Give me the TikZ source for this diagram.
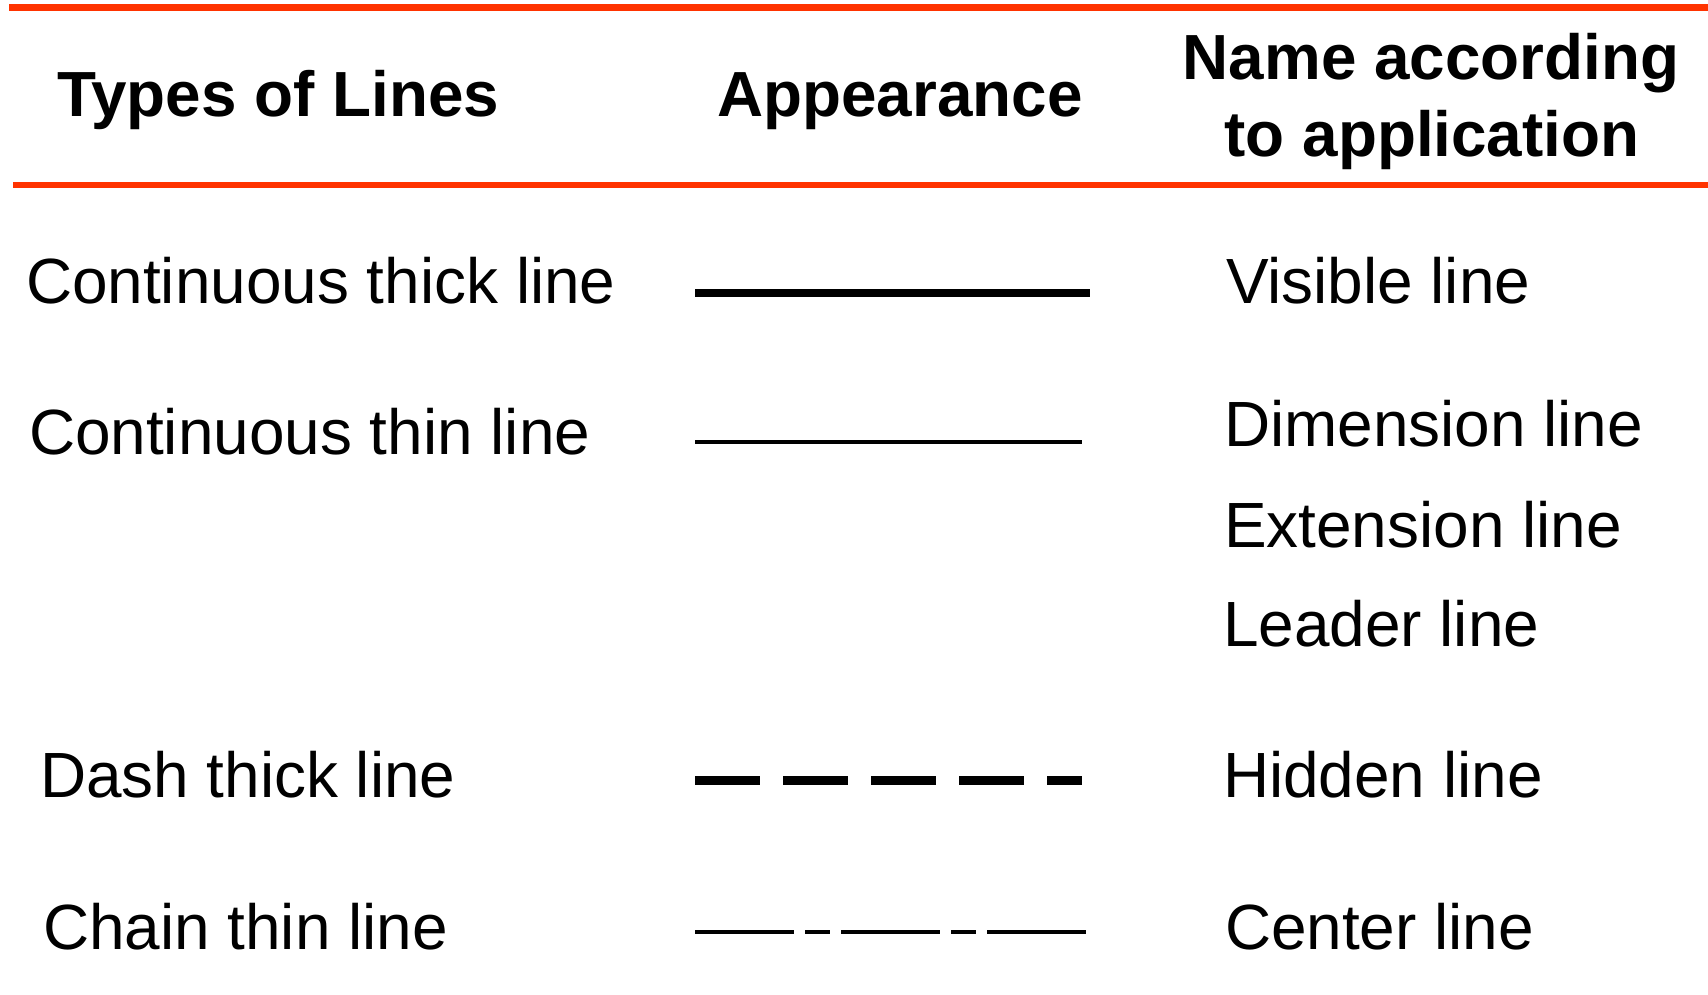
\documentclass[tikz,border=0pt]{standalone}
\usepackage{fontspec}
\setmainfont{Liberation Sans}
\definecolor{rulered}{RGB}{255,51,0}
\begin{document}
\begin{tikzpicture}[x=1pt,y=-1pt,
  txt/.style={anchor=base west,inner sep=0pt,outer sep=0pt,font=\fontsize{63.9}{75}\selectfont},
  hdr/.style={anchor=base,inner sep=0pt,outer sep=0pt,font=\fontsize{63.8}{75}\selectfont\bfseries},
  redrule/.style={draw=rulered,line width=6.7pt},
  sample/.style={line cap=butt}]
\useasboundingbox (0,0) rectangle (1708,995);
% rules
\coordinate (r1a) at (9,7.3);   \coordinate (r1b) at (1708,7.3);
\coordinate (r2a) at (13,185);  \coordinate (r2b) at (1708,185);
\draw[redrule] (r1a) -- (r1b);
\draw[redrule] (r2a) -- (r2b);
% headers
\node[hdr] (h1) at (278,117) {Types of Lines};
\node[hdr] (h2) at (900,117) {Appearance};
\node[hdr] (h3a) at (1431,80) {Name according};
\node[hdr] (h3b) at (1432,157) {to application};
% left column
\node[txt] (t1) at (26,303) {Continuous thick line};
\node[txt] (t2) at (29,454) {Continuous thin line};
\node[txt] (t3) at (40,797) {Dash thick line};
\node[txt] (t4) at (43,949) {Chain thin line};
% right column
\node[txt] (n1) at (1226,303) {Visible line};
\node[txt] (n2) at (1224,446) {Dimension line};
\node[txt] (n3) at (1224,547) {Extension line};
\node[txt] (n4) at (1223,646) {Leader line};
\node[txt] (n5) at (1223,797) {Hidden line};
\node[txt] (n6) at (1225,949) {Center line};
% appearance samples
\coordinate (a1) at (695,293);  \coordinate (b1) at (1090,293);
\coordinate (a2) at (695,442);  \coordinate (b2) at (1082,442);
\coordinate (a3) at (695,780.3);  \coordinate (b3) at (1082.3,780.3);
\coordinate (a4) at (695,932);  \coordinate (b4) at (1086,932);
\draw[sample,line width=8pt] (a1) -- (b1);
\draw[sample,line width=4pt] (a2) -- (b2);
\draw[sample,line width=8.6pt,dash pattern=on 65pt off 23pt] (a3) -- (b3);
\draw[sample,line width=4pt,dash pattern=on 99pt off 11pt on 25pt off 11pt] (a4) -- (b4);
\end{tikzpicture}
\end{document}
